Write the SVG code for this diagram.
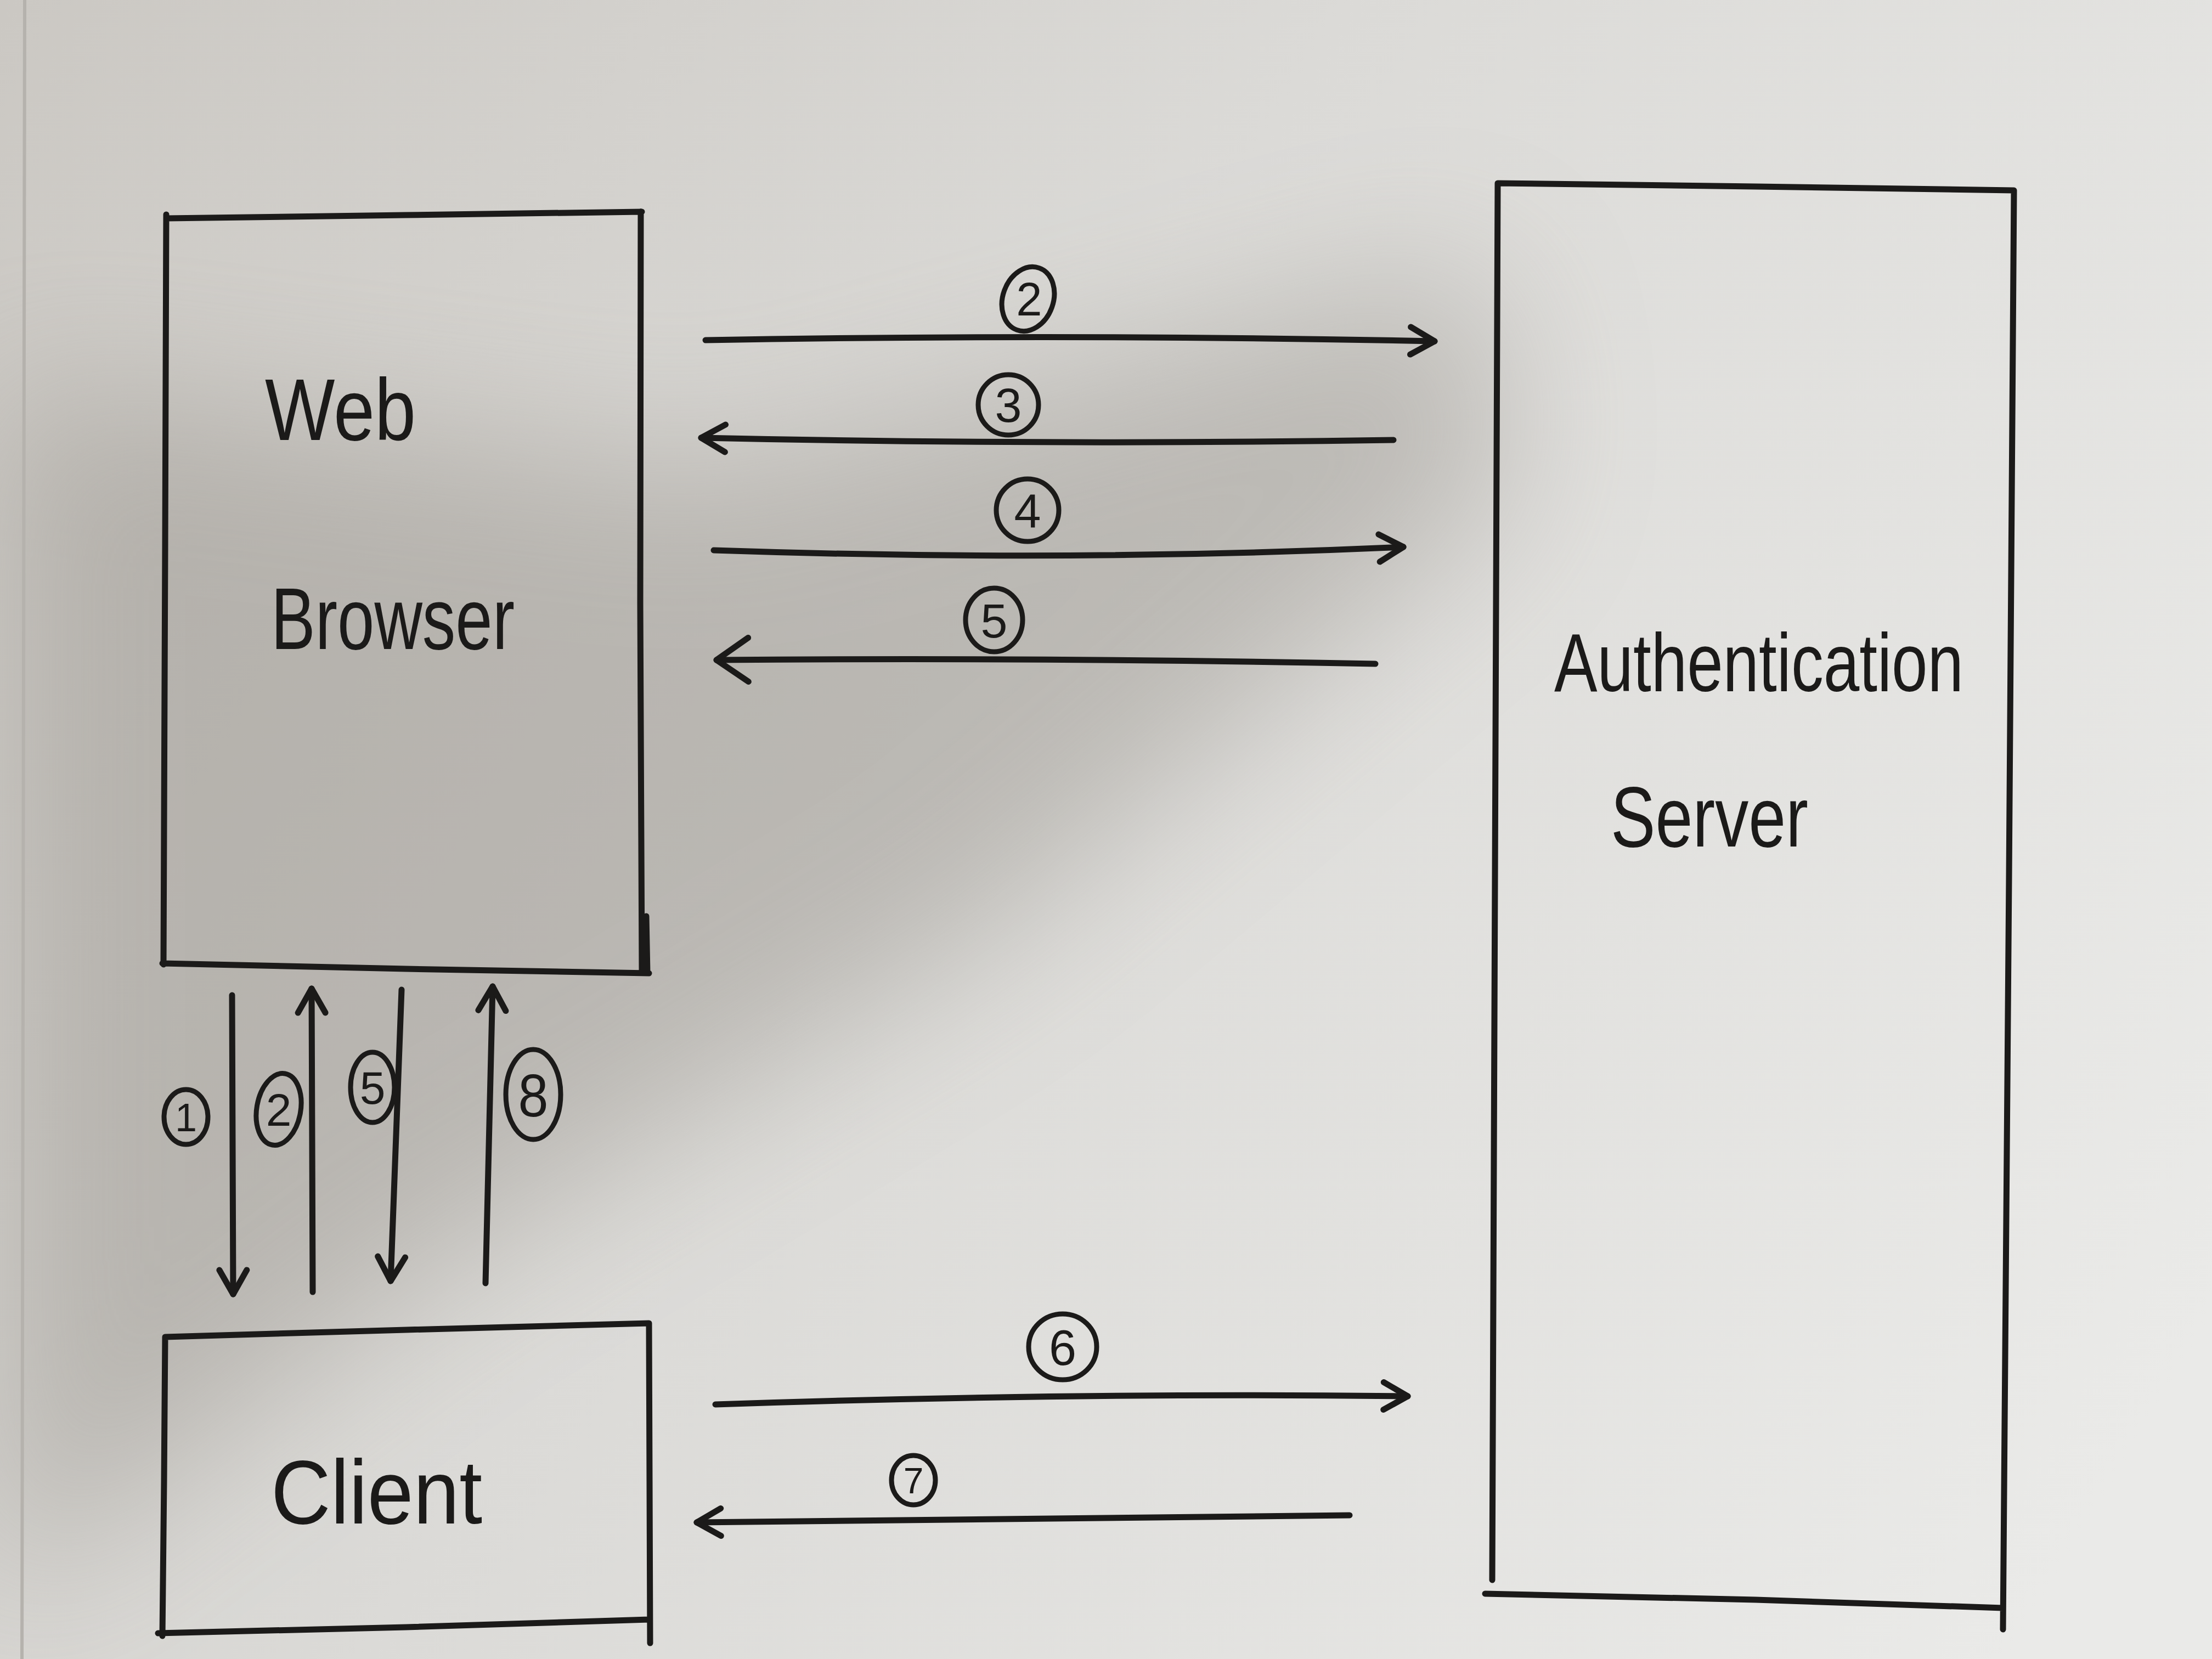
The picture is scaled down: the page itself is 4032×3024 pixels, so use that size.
<svg xmlns="http://www.w3.org/2000/svg" width="4032" height="3024" viewBox="0 0 4032 3024">
  <defs>
    <linearGradient id="paper" gradientUnits="userSpaceOnUse" x1="0" y1="0" x2="4032" y2="2400">
      <stop offset="0" stop-color="#cbc8c3"/>
      <stop offset="0.45" stop-color="#dbdad7"/>
      <stop offset="1" stop-color="#eaeae8"/>
    </linearGradient>
    <filter id="soft" x="-30%" y="-30%" width="160%" height="160%">
      <feGaussianBlur stdDeviation="140"/>
    </filter>
    <marker id="ah" viewBox="0 0 70 70" refX="62" refY="35" markerWidth="70" markerHeight="70" markerUnits="userSpaceOnUse" orient="auto" overflow="visible">
      <path d="M18,10 L62,35 L18,60" class="head"/>
    </marker>
    <marker id="ahl" viewBox="0 0 90 90" refX="80" refY="45" markerWidth="90" markerHeight="90" markerUnits="userSpaceOnUse" orient="auto" overflow="visible">
      <path d="M22,5 L80,45 L22,85" class="head"/>
    </marker>
    <style>
      .ink { fill: none; stroke: #1b1a19; stroke-width: 11; stroke-linecap: round; stroke-linejoin: round; }
      .head { fill: none; stroke: #1b1a19; stroke-width: 11; stroke-linecap: round; stroke-linejoin: round; }
      .ring { fill: none; stroke: #1b1a19; stroke-width: 9; }
      .hand { font-family: "Liberation Sans", "DejaVu Sans", sans-serif; fill: #1b1a19; }
      .num { font-family: "Liberation Sans", "DejaVu Sans", sans-serif; fill: #1b1a19; text-anchor: middle; }
    </style>
  </defs>

  <!-- paper -->
  <rect x="0" y="0" width="4032" height="3024" fill="url(#paper)"/>
  <polygon points="0,700 1300,860 2700,480 2750,900 1800,1700 800,2300 0,2900" fill="#8f8a83" opacity="0.42" filter="url(#soft)"/>
  <line x1="45" y1="0" x2="40" y2="3024" stroke="#b5b2ad" stroke-width="6"/>

  <!-- nodes -->
  <g id="node-browser">
    <path class="ink" d="M303,398 L740,392 L1170,386 M303,391 L301,1000 L298,1758 M1168,386 L1167,1100 L1170,1768 M296,1756 L740,1766 L1183,1774 M1178,1670 L1180,1774"/>
    <text class="hand" x="483" y="802" font-size="160" textLength="275" lengthAdjust="spacingAndGlyphs">Web</text>
    <text class="hand" x="494" y="1183" font-size="160" textLength="444" lengthAdjust="spacingAndGlyphs">Browser</text>
  </g>

  <g id="node-client">
    <path class="ink" d="M301,2437 L740,2424 L1183,2412 M301,2437 L299,2700 L296,2982 M1183,2412 L1184,2700 L1185,2995 M288,2977 L740,2966 L1183,2952"/>
    <text class="hand" x="494" y="2777" font-size="165" textLength="385" lengthAdjust="spacingAndGlyphs">Client</text>
  </g>

  <g id="node-auth">
    <path class="ink" d="M2730,334 L3200,340 L3671,347 M2730,334 L2725,1600 L2720,2880 M3671,347 L3662,1600 L3651,2970 M2707,2905 L3200,2916 L3651,2931"/>
    <text class="hand" x="2833" y="1260" font-size="150" textLength="746" lengthAdjust="spacingAndGlyphs">Authentication</text>
    <text class="hand" x="2936" y="1543" font-size="155" textLength="360" lengthAdjust="spacingAndGlyphs">Server</text>
  </g>

  <!-- connectors -->
  <g id="connectors">
    <g id="c2">
      <path class="ink" d="M1286,620 Q1950,608 2615,622" marker-end="url(#ah)"/>
      <ellipse class="ring" cx="1874" cy="545" rx="46" ry="60" transform="rotate(20 1874 545)"/>
      <text class="num" x="1876" y="575" font-size="85">2</text>
    </g>
    <g id="c3">
      <path class="ink" d="M2540,802 Q1900,812 1278,798" marker-end="url(#ah)"/>
      <circle class="ring" cx="1838" cy="738" r="55"/>
      <text class="num" x="1838" y="769" font-size="88">3</text>
    </g>
    <g id="c4">
      <path class="ink" d="M1301,1003 Q1950,1025 2558,997" marker-end="url(#ah)"/>
      <circle class="ring" cx="1873" cy="930" r="57"/>
      <text class="num" x="1873" y="962" font-size="88">4</text>
    </g>
    <g id="c5">
      <path class="ink" d="M2507,1210 Q1900,1198 1306,1203" marker-end="url(#ahl)"/>
      <ellipse class="ring" cx="1812" cy="1130" rx="52" ry="58"/>
      <text class="num" x="1812" y="1162" font-size="88">5</text>
    </g>
    <g id="c6">
      <path class="ink" d="M1304,2560 Q1950,2538 2566,2545" marker-end="url(#ah)"/>
      <ellipse class="ring" cx="1937" cy="2455" rx="62" ry="60"/>
      <text class="num" x="1937" y="2488" font-size="90">6</text>
    </g>
    <g id="c7">
      <path class="ink" d="M2460,2762 Q1850,2768 1270,2775" marker-end="url(#ah)"/>
      <ellipse class="ring" cx="1665" cy="2698" rx="40" ry="45"/>
      <text class="num" x="1665" y="2722" font-size="66">7</text>
    </g>
    <g id="c1v">
      <path class="ink" d="M423,1814 L425,2359" marker-end="url(#ah)"/>
      <ellipse class="ring" cx="339" cy="2036" rx="40" ry="50"/>
      <text class="num" x="339" y="2062" font-size="72">1</text>
    </g>
    <g id="c2v">
      <path class="ink" d="M570,2355 L568,1802" marker-end="url(#ah)"/>
      <ellipse class="ring" cx="508" cy="2022" rx="40" ry="66" transform="rotate(10 508 2022)"/>
      <text class="num" x="508" y="2052" font-size="84">2</text>
    </g>
    <g id="c5v">
      <path class="ink" d="M732,1804 L712,2335" marker-end="url(#ah)"/>
      <ellipse class="ring" cx="679" cy="1982" rx="40" ry="64"/>
      <text class="num" x="679" y="2012" font-size="84">5</text>
    </g>
    <g id="c8v">
      <path class="ink" d="M885,2339 L898,1798" marker-end="url(#ah)"/>
      <ellipse class="ring" cx="972" cy="1995" rx="50" ry="82"/>
      <text class="num" x="972" y="2035" font-size="110" textLength="55" lengthAdjust="spacingAndGlyphs">8</text>
    </g>
  </g>
</svg>
